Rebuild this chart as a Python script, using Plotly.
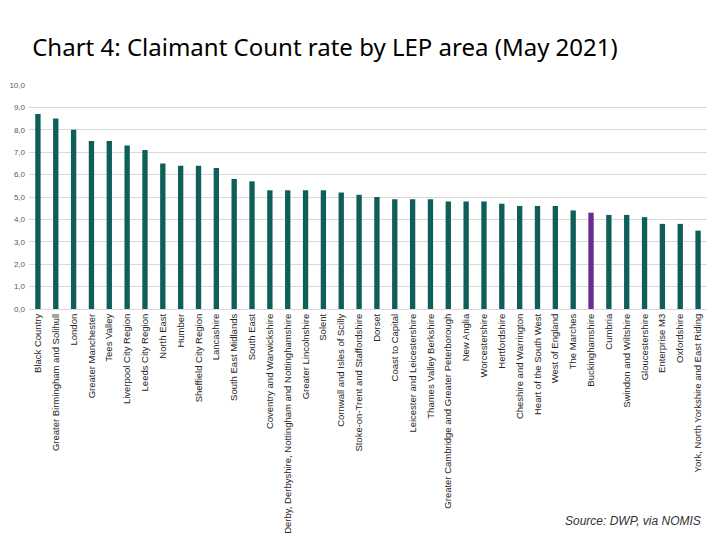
import plotly.graph_objects as go

areas = [
    "Black Country", "Greater Birmingham and Solihull", "London", "Greater Manchester",
    "Tees Valley", "Liverpool City Region", "Leeds City Region", "North East", "Humber",
    "Sheffield City Region", "Lancashire", "South East Midlands", "South East",
    "Coventry and Warwickshire", "Derby, Derbyshire, Nottingham and Nottinghamshire",
    "Greater Lincolnshire", "Solent", "Cornwall and Isles of Scilly",
    "Stoke-on-Trent and Staffordshire", "Dorset", "Coast to Capital",
    "Leicester and Leicestershire", "Thames Valley Berkshire",
    "Greater Cambridge and Greater Peterborough", "New Anglia", "Worcestershire",
    "Hertfordshire", "Cheshire and Warrington", "Heart of the South West",
    "West of England", "The Marches", "Buckinghamshire", "Cumbria",
    "Swindon and Wiltshire", "Gloucestershire", "Enterprise M3", "Oxfordshire",
    "York, North Yorkshire and East Riding",
]
rates = [
    8.7, 8.5, 8.0, 7.5, 7.5, 7.3, 7.1, 6.5, 6.4, 6.4, 6.3, 5.8, 5.7,
    5.3, 5.3, 5.3, 5.3, 5.2, 5.1, 5.0, 4.9, 4.9, 4.9, 4.8, 4.8, 4.8,
    4.7, 4.6, 4.6, 4.6, 4.4, 4.3, 4.2, 4.2, 4.1, 3.8, 3.8, 3.5,
]
highlight = "Buckinghamshire"
y_ticks = [0, 1, 2, 3, 4, 5, 6, 7, 8, 9, 10]

teal = "#0E5F58"
purple = "#6A2C91"
colors = [purple if a == highlight else teal for a in areas]

fig = go.Figure(go.Bar(x=areas, y=rates, marker_color=colors, marker_line_width=0))

fig.update_layout(
    width=712, height=532,
    margin=dict(l=21, r=13, t=77, b=231),
    paper_bgcolor="white", plot_bgcolor="white",
    bargap=0.7,
    showlegend=False,
    font=dict(family="Liberation Sans, Arial, sans-serif", color="#404040"),
    title=dict(
        text="Chart 4: Claimant Count rate by LEP area (May 2021)",
        x=0.034, xanchor="left", y=0.925, yanchor="middle",
        font=dict(size=24, color="black", family="Noto Sans, sans-serif"),
    ),
    annotations=[dict(
        text="<i>Source: DWP, via NOMIS</i>", xref="paper", yref="paper",
        x=0.994, y=-0.946, xanchor="right", yanchor="middle", showarrow=False,
        font=dict(size=12, color="#333333"),
    )],
)
fig.update_yaxes(
    range=[0, 10], tickvals=y_ticks, ticktext=[f"{v},0" for v in y_ticks],
    showgrid=True, gridcolor="#D9D9D9", gridwidth=1,
    tickfont=dict(size=8, color="#595959"), zeroline=False,
    ticks="", ticklabelstandoff=3, automargin=False,
)
fig.update_xaxes(
    tickangle=-90, tickfont=dict(size=9.5, color="#262626"),
    showline=True, linecolor="#D9D9D9", ticks="", automargin=False,
)

fig.write_html("out.html")
